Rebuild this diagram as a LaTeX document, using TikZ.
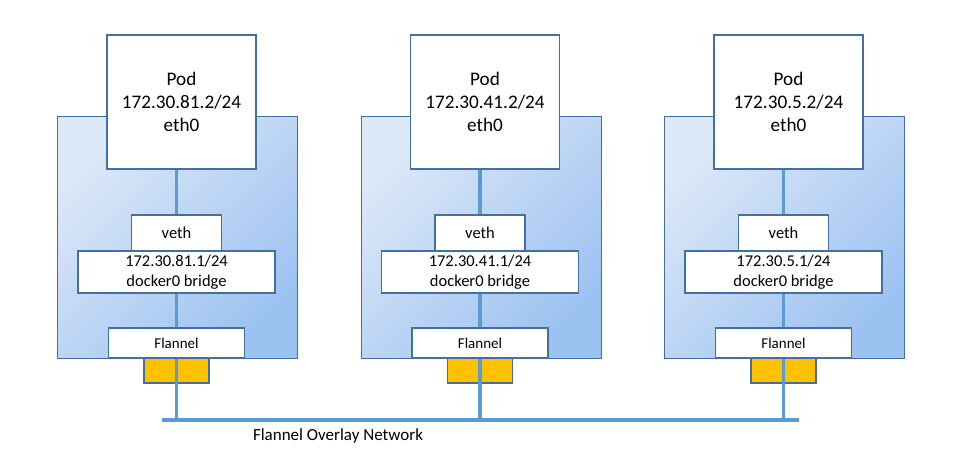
\documentclass[tikz,border=0pt]{standalone}
\usepackage{fontspec}
\setmainfont{Carlito}
\usetikzlibrary{positioning}
\definecolor{edgeblue}{HTML}{41719C}
\definecolor{wireblue}{HTML}{5B9BD5}
\definecolor{hostlight}{HTML}{DDE8F8}
\definecolor{hostdark}{HTML}{9CC2F1}
\definecolor{portyellow}{HTML}{FFC000}

\begin{document}
\begin{tikzpicture}[x=1pt,y=-1pt,
    box/.style={draw=edgeblue,line width=1.2pt,fill=white,inner sep=0pt,align=center},
    hostbox/.style={draw=edgeblue,line width=1.2pt,top color=hostlight,bottom color=hostdark,shading angle=45,inner sep=0pt},
    wire/.style={draw=wireblue,line width=3.3pt}]
      \useasboundingbox (0,0) rectangle (966,469);
      \coordinate (netL) at (162,420);
      \coordinate (netR) at (799,420);
      \foreach \n/\x/\s in {a/57/81,b/360.5/41,c/664/5}{
        \node[hostbox,minimum width=240pt,minimum height=242pt,anchor=north west] (host\n) at (\x,116) {};
        \node[box,minimum width=149pt,minimum height=134pt,font=\fontsize{19.2}{23}\selectfont] (pod\n) at (\x+124.5,102) {Pod\\172.30.\s.2/24\\eth0};
        \node[box,minimum width=90pt,minimum height=36pt,font=\fontsize{16.5}{20}\selectfont] (veth\n) at (\x+119.5,233) {veth};
        \node[box,minimum width=197pt,minimum height=42pt,font=\fontsize{16.5}{20}\selectfont] (bridge\n) at (\x+119.5,272) {172.30.\s.1/24\\docker0 bridge};
        \node[box,minimum width=136pt,minimum height=30pt,font=\fontsize{15}{18}\selectfont] (flannel\n) at (\x+119.5,343) {Flannel};
        \node[box,fill=portyellow,minimum width=65pt,minimum height=25pt] (port\n) at (\x+119.5,370.5) {};
        \draw[wire] (veth\n.north |- pod\n.south) -- (veth\n.north);
        \draw[wire] (bridge\n.south) -- (flannel\n.north);
        \draw[wire] (flannel\n.south) -- (flannel\n.south |- netL);
      }
      \draw[wire] (netL) -- (netR);
      \node[font=\fontsize{17}{20}\selectfont] (netlabel) at (338,436) {Flannel Overlay Network};
    \end{tikzpicture}
\end{document}
